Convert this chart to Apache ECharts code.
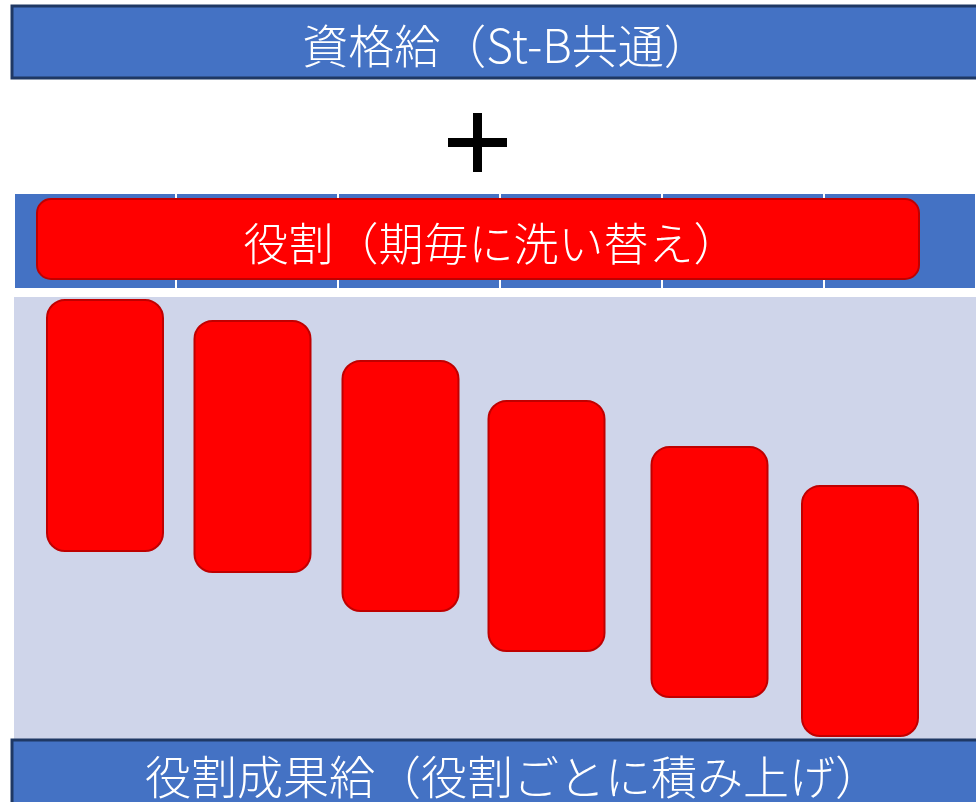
<!DOCTYPE html>
<html><head><meta charset="utf-8">
<script src="https://cdn.jsdelivr.net/npm/echarts@6/dist/echarts.min.js"></script>
<style>html,body{margin:0;padding:0;background:#fff}#c{width:976px;height:802px}</style>
</head><body><div id="c"></div>
<script>
// Text labels
var topTitle = '資格給（St-B共通）';
var bandTitle = '役割（期毎に洗い替え）';
var bottomTitle = '役割成果給（役割ごとに積み上げ）';
// Band columns: column width and band extent (tick lines every column)
var bandColumnWidth = 162;
var bandExtent = [0, 962];
// Floating role bars: x centre, lower value, upper value
var barCenters = [91, 238.5, 386.5, 532.5, 695.5, 846];
var barLows  = [188, 167, 128, 88, 42, 3];
var barHighs = [439, 418, 378, 338, 292, 253];
var barWidthValue = 116;

var FONT = '"Noto Sans CJK JP", "Noto Sans", sans-serif';
var chart = echarts.init(document.getElementById('c'), null, {renderer: 'canvas'});
var data = barCenters.map(function (c, i) { return [c, barLows[i], barHighs[i]]; });

chart.setOption({
  animation: false,
  backgroundColor: '#ffffff',
  grid: [
    {left: 14, right: 0, top: 297, bottom: 63, show: true, backgroundColor: '#CFD5EA', borderWidth: 0},
    {left: 14, right: 0, top: 194, height: 94, show: true, backgroundColor: '#4472C4', borderWidth: 0}
  ],
  xAxis: [
    {gridIndex: 0, type: 'value', min: 0, max: 962, show: false},
    {gridIndex: 1, type: 'value', min: bandExtent[0], max: bandExtent[1], interval: bandColumnWidth,
     axisLine: {show: false}, axisTick: {show: false}, axisLabel: {show: false},
     splitLine: {show: true, lineStyle: {color: '#ffffff', width: 2}}}
  ],
  yAxis: [
    {gridIndex: 0, type: 'value', min: 0, max: 442, show: false},
    {gridIndex: 1, type: 'value', min: 0, max: 1, show: false, splitLine: {show: false}}
  ],
  series: [{
    type: 'custom',
    xAxisIndex: 0, yAxisIndex: 0,
    data: data,
    renderItem: function (params, api) {
      var top = api.coord([api.value(0), api.value(2)]);
      var bot = api.coord([api.value(0), api.value(1)]);
      var w = api.size([barWidthValue, 0])[0];
      return {
        type: 'rect',
        shape: {x: top[0] - w / 2, y: top[1], width: w, height: bot[1] - top[1], r: 18},
        style: {fill: '#FF0000', stroke: '#C00000', lineWidth: 2}
      };
    }
  }],
  graphic: [
    {type: 'rect', shape: {x: 12, y: 6, width: 980, height: 72},
     style: {fill: '#4472C4', stroke: '#1F3864', lineWidth: 3}, z: 10},
    {type: 'text', x: 506, y: 46, z: 11,
     style: {text: topTitle, fill: '#ffffff', font: '300 46px ' + FONT, textAlign: 'center', textVerticalAlign: 'middle'}},
    {type: 'rect', shape: {x: 448, y: 138, width: 59, height: 9}, style: {fill: '#000000'}, z: 10},
    {type: 'rect', shape: {x: 473, y: 113, width: 9, height: 59}, style: {fill: '#000000'}, z: 10},
    {type: 'rect', shape: {x: 37, y: 199, width: 882, height: 80, r: 14},
     style: {fill: '#FF0000', stroke: '#C00000', lineWidth: 2}, z: 10},
    {type: 'text', x: 491, y: 244, z: 11,
     style: {text: bandTitle, fill: '#ffffff', font: '300 45px ' + FONT, textAlign: 'center', textVerticalAlign: 'middle'}},
    {type: 'rect', shape: {x: 12, y: 740, width: 980, height: 80},
     style: {fill: '#4472C4', stroke: '#1F3864', lineWidth: 3}, z: 10},
    {type: 'text', x: 513, y: 777, z: 11,
     style: {text: bottomTitle, fill: '#ffffff', font: '300 46px ' + FONT, textAlign: 'center', textVerticalAlign: 'middle'}}
  ]
});
</script>
</body></html>
